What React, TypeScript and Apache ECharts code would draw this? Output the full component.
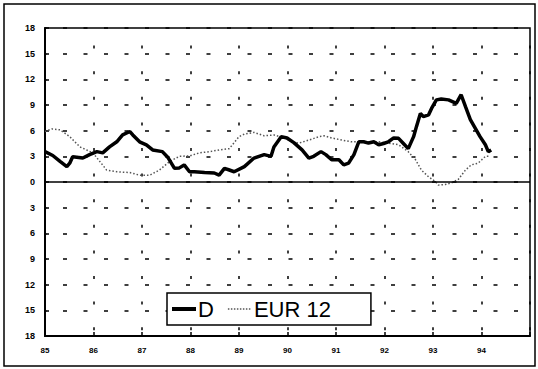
import React, { useEffect, useRef } from "react";
import * as echarts from "echarts";

// Decimal years (85 = 1985) and values
const dYears = [85.0, 85.16, 85.31, 85.45, 85.51, 85.57, 85.78, 85.92, 86.07, 86.19, 86.33, 86.48, 86.6, 86.75, 86.81, 86.95, 87.09, 87.22, 87.42, 87.53, 87.67, 87.77, 87.87, 87.98, 88.08, 88.29, 88.49, 88.59, 88.7, 88.8, 88.9, 89.11, 89.31, 89.52, 89.66, 89.72, 89.87, 89.99, 90.13, 90.3, 90.44, 90.54, 90.69, 90.79, 90.91, 91.06, 91.16, 91.26, 91.37, 91.47, 91.57, 91.67, 91.78, 91.88, 91.98, 92.08, 92.19, 92.29, 92.39, 92.49, 92.6, 92.66, 92.74, 92.8, 92.91, 92.97, 93.07, 93.17, 93.32, 93.48, 93.52, 93.58, 93.67, 93.77, 93.87, 93.97, 94.08, 94.14, 94.2];
const dValues = [3.55, 3.1, 2.4, 1.8, 2.2, 2.95, 2.8, 3.2, 3.55, 3.4, 4.1, 4.7, 5.5, 5.9, 5.5, 4.7, 4.35, 3.75, 3.55, 2.9, 1.6, 1.65, 2.0, 1.2, 1.2, 1.1, 1.05, 0.8, 1.6, 1.4, 1.2, 1.8, 2.8, 3.2, 3.0, 4.1, 5.3, 5.15, 4.6, 3.75, 2.8, 3.0, 3.55, 3.2, 2.6, 2.6, 2.0, 2.2, 3.2, 4.7, 4.7, 4.55, 4.7, 4.35, 4.5, 4.7, 5.15, 5.1, 4.5, 3.9, 5.3, 6.5, 8.0, 7.65, 7.85, 8.6, 9.6, 9.7, 9.6, 9.2, 9.6, 10.2, 8.8, 7.3, 6.3, 5.3, 4.35, 3.55, 3.75];

const eurYears = [85.0, 85.14, 85.31, 85.51, 85.72, 85.99, 86.13, 86.27, 86.48, 86.75, 86.95, 87.16, 87.36, 87.57, 87.77, 87.98, 88.18, 88.39, 88.59, 88.8, 88.9, 89.0, 89.11, 89.31, 89.52, 89.72, 89.93, 90.13, 90.24, 90.44, 90.65, 90.75, 90.91, 91.12, 91.32, 91.67, 91.88, 92.08, 92.29, 92.49, 92.64, 92.76, 92.91, 93.05, 93.11, 93.25, 93.38, 93.52, 93.67, 93.79, 93.93, 94.08, 94.18];
const eurValues = [5.9, 6.2, 6.1, 5.3, 4.1, 3.4, 2.4, 1.4, 1.2, 1.1, 0.8, 0.8, 1.4, 2.4, 3.0, 3.05, 3.4, 3.55, 3.75, 3.9, 4.6, 5.3, 5.6, 5.8, 5.4, 5.5, 5.15, 4.6, 4.55, 4.9, 5.3, 5.4, 5.15, 4.9, 4.7, 4.7, 4.7, 4.55, 4.35, 3.55, 2.6, 1.4, 0.6, 0.05, -0.35, -0.3, -0.1, 0.3, 1.4, 2.0, 2.2, 3.0, 3.0];

const seriesNames = ["D", "EUR 12"];

// legend icon shapes (24 x 14 box)
const solidIcon = "path://M0,0M24,14M0,5h24v4h-24z";
let dots = "path://M0,0M24,14";
for (let x = 0; x < 24; x += 3) dots += `M${x},6.3h1.5v1.5h-1.5z`;
const dottedIcon = dots;

export default function App() {
  const ref = useRef<HTMLDivElement>(null);
  useEffect(() => {
    if (!ref.current) return;
    const chart = echarts.init(ref.current, null, { renderer: "svg" });
    const dData = dYears.map((x, i) => [x, dValues[i]]);
    const eData = eurYears.map((x, i) => [x, eurValues[i]]);
    chart.setOption({
      animation: false,
      backgroundColor: "#fff",
      textStyle: { fontFamily: "Liberation Sans, Arial, sans-serif" },
      grid: {
        left: 45,
        right: 8,
        top: 28,
        bottom: 33,
        show: true,
        borderColor: "#000",
        borderWidth: 1.5,
        backgroundColor: "transparent",
      },
      graphic: [
        {
          type: "rect",
          shape: { x: 4, y: 4, width: 531, height: 362 },
          style: { fill: "none", stroke: "#000", lineWidth: 1.5 },
          silent: true,
        },
      ],
      legend: {
        data: [
          { name: seriesNames[0], icon: solidIcon },
          { name: seriesNames[1], icon: dottedIcon },
        ],
        left: 167,
        top: 293,
        orient: "horizontal",
        backgroundColor: "#fff",
        borderColor: "#000",
        borderWidth: 1.5,
        borderRadius: 0,
        padding: [5, 40, 5, 5],
        itemWidth: 24,
        itemHeight: 14,
        itemGap: 14,
        textStyle: {
          fontSize: 22,
          color: "#000",
          fontFamily: "Liberation Sans, Arial, sans-serif",
          padding: [0, 0, 0, -3],
        },
      },
      xAxis: {
        type: "value",
        min: 85,
        max: 95,
        interval: 1,
        axisLine: { onZero: false, lineStyle: { color: "#000", width: 2 } },
        axisTick: { inside: true, length: 4, lineStyle: { color: "#000", width: 1.5 } },
        axisLabel: {
          fontSize: 8,
          fontWeight: "bold",
          color: "#000",
          margin: 10,
          formatter: (v: number) => (v >= 95 ? "" : String(v)),
        },
        splitLine: {
          show: true,
          lineStyle: { color: "#000", width: 1.5, type: [3, 22.6], dashOffset: 8 },
        },
      },
      yAxis: {
        type: "value",
        min: -18,
        max: 18,
        interval: 3,
        axisLine: { show: true, lineStyle: { color: "#000", width: 2 } },
        axisTick: { show: true, inside: true, length: 4, lineStyle: { color: "#000", width: 1.5 } },
        axisLabel: {
          fontSize: 9,
          fontWeight: "bold",
          color: "#000",
          margin: 10,
          formatter: (v: number) => String(Math.abs(v)),
        },
        splitLine: {
          show: true,
          lineStyle: { color: "#000", width: 1.5, type: [4, 16.5], dashOffset: -18 },
        },
      },
      series: [
        {
          name: "D",
          type: "line",
          data: dData,
          symbol: "none",
          smooth: false,
          lineStyle: { color: "#000", width: 3.5 },
          itemStyle: { color: "#000" },
          z: 5,
          markLine: {
            silent: true,
            symbol: "none",
            label: { show: false },
            lineStyle: { color: "#000", width: 1.5, type: "solid" },
            data: [{ yAxis: 0 }],
          },
        },
        {
          name: "EUR 12",
          type: "line",
          data: eData,
          symbol: "none",
          lineStyle: { color: "#555", width: 1.5, type: [1.5, 2] },
          itemStyle: { color: "#555" },
          z: 4,
        },
      ],
    });
    return () => chart.dispose();
  }, []);
  return (
    <div
      ref={ref}
      style={{ position: "fixed", left: 0, top: 0, width: 538, height: 369 }}
    />
  );
}
